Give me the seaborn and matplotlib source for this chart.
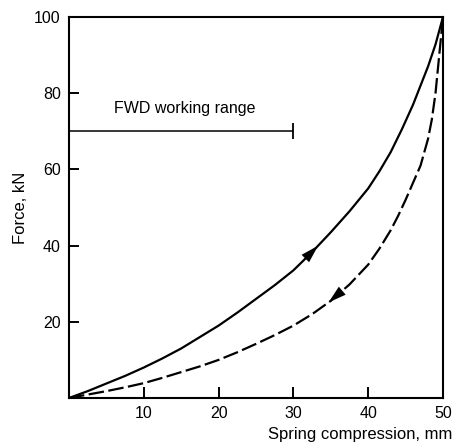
import numpy as np
import matplotlib
matplotlib.use("Agg")
import matplotlib.pyplot as plt
import seaborn as sns

# loading curve (solid) and unloading curve (dashed)
x_load = [0, 2.5, 5, 7.5, 10, 12.5, 15, 17.5, 20, 22.5, 25, 27.5, 30, 32.5, 35,
          37.5, 40, 41.5, 43, 44.5, 46, 47, 48, 49, 50]
f_load = [0, 1.8, 3.8, 5.8, 8, 10.4, 13, 16, 19, 22.4, 26, 29.6, 33.5, 38.3, 43.5,
          49, 55, 59.5, 64.5, 70.5, 77, 82, 87, 92.8, 100]

x_unload = [0, 2.5, 5, 7.5, 10, 12.5, 15, 17.5, 20, 22.5, 25, 27.5, 30, 32.5, 35,
            37.5, 40, 41.5, 43, 44, 45, 46, 47, 47.5, 48, 48.5, 49, 49.3, 49.6, 50]
f_unload = [0, 0.9, 1.8, 2.8, 3.9, 5.3, 6.8, 8.3, 10, 12, 14.2, 16.5, 19, 22, 25.5,
            29.8, 35, 39.2, 44, 47.8, 52, 56.5, 61, 64.5, 68, 73, 80, 86, 92, 100]

# arrows on the curves (tail x, head x)
arrow_load = [31.0, 33.3]
arrow_unload = [37.3, 34.7]

# FWD working range
fwd_range = [0, 30]
fwd_force = 70
fwd_label = "FWD working range"

x_ticks = [10, 20, 30, 40, 50]
y_ticks = [20, 40, 60, 80, 100]

sns.set_style("ticks", {"axes.edgecolor": "black", "text.color": "black",
                        "axes.labelcolor": "black", "xtick.color": "black",
                        "ytick.color": "black"})
plt.rcParams["font.family"] = ["Liberation Sans", "DejaVu Sans"]

fig = plt.figure(figsize=(4.55, 4.48), dpi=100)
ax = fig.add_axes([0.1516, 0.1116, 0.822, 0.8505])

sns.lineplot(x=x_load, y=f_load, ax=ax, color="black", lw=1.6, sort=False)
sns.lineplot(x=x_unload, y=f_unload, ax=ax, color="black", lw=1.6, sort=False)
ax.lines[-1].set_dashes((7, 2))

# arrowheads
for (x0, x1), xs, fs in [(arrow_load, x_load, f_load), (arrow_unload, x_unload, f_unload)]:
    y0 = np.interp(x0, xs, fs)
    y1 = np.interp(x1, xs, fs)
    ax.annotate("", xy=(x1, y1), xytext=(x0, y0),
                arrowprops=dict(arrowstyle="-|>,head_length=1.3,head_width=0.38",
                                mutation_scale=10, color="black", lw=0,
                                shrinkA=0, shrinkB=0))

# working range bar
sns.lineplot(x=fwd_range, y=[fwd_force, fwd_force], ax=ax, color="black", lw=1.1)
ax.plot([fwd_range[1]], [fwd_force], marker="|", markersize=11, mew=1.3, color="black")
ax.text(6, 76, fwd_label, fontsize=11.5, va="center", ha="left")

ax.set_xlim(0, 50)
ax.set_ylim(0, 100)
ax.set_xticks(x_ticks)
ax.set_yticks(y_ticks)
# built-in tick marks off, inward ticks drawn as short segments below
ax.tick_params(length=0, labelsize=11.5, pad=6)

ax.vlines(x_ticks, 0, 0.028, transform=ax.get_xaxis_transform(),
          color="black", lw=1.4, zorder=3)
ax.hlines(y_ticks, 0, 0.028, transform=ax.get_yaxis_transform(),
          color="black", lw=1.4, zorder=3)

for s in ax.spines.values():
    s.set_linewidth(1.5)

ax.set_ylabel("Force, kN", fontsize=12)
ax.set_xlabel("Spring compression, mm", fontsize=12, loc="right")
ax.xaxis.set_label_coords(1.024, -0.075)

fig.savefig("out.png", dpi=100)
